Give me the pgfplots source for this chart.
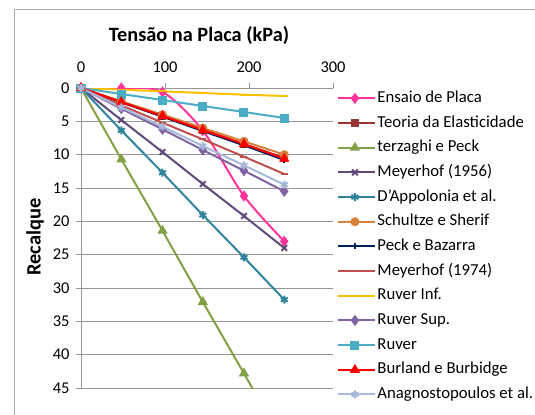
\documentclass[border=0pt]{standalone}
\usepackage{pgfplots}
\pgfplotsset{compat=1.18}
\usepackage{fontspec}
\setmainfont{Carlito}
\definecolor{cEns}{RGB}{255,51,153}
\definecolor{cTeo}{RGB}{150,55,53}
\definecolor{cTer}{RGB}{130,160,70}
\definecolor{cMey}{RGB}{96,74,123}
\definecolor{cDap}{RGB}{49,132,155}
\definecolor{cSch}{RGB}{215,130,60}
\definecolor{cPec}{RGB}{0,32,96}
\definecolor{cM74}{RGB}{192,80,77}
\definecolor{cRI}{RGB}{255,192,0}
\definecolor{cRS}{RGB}{128,100,162}
\definecolor{cRu}{RGB}{75,172,198}
\definecolor{cBur}{RGB}{255,0,0}
\definecolor{cAna}{RGB}{166,185,218}
\definecolor{cGrid}{RGB}{150,150,150}
\begin{document}
\begin{tikzpicture}
\useasboundingbox (0,0) rectangle (535bp,415bp);
\draw[cGrid!80, line width=1bp] (14bp,0bp) -- (14bp,405bp) -- (535bp,405bp);
\node[font=\fontsize{20.4}{24}\selectfont\bfseries] at (199bp,379bp) {Tensão na Placa (kPa)};
\node[font=\fontsize{20.5}{24}\selectfont\bfseries, rotate=90] at (35bp,178bp) {Recalque};
\begin{axis}[
  at={(81bp,27bp)}, anchor=south west,
  scale only axis, width=252bp, height=300bp,
  xmin=0, xmax=300, ymin=0, ymax=45,
  y dir=reverse,
  axis x line*=top, axis y line*=left,
  axis line style={cGrid, line width=0.8bp, -},
  xtick={0,100,200,300}, ytick={0,5,...,45},
  tick align=outside, major tick length=5bp,
  tick style={cGrid, line width=0.8bp},
  ymajorgrids, grid style={cGrid, line width=0.8bp},
  /pgf/number format/assume math mode=true,
  ticklabel style={font=\fontsize{16.5}{19}\selectfont},
  xticklabel style={yshift=7bp},
  yticklabel style={xshift=-3bp},
  clip=true,
  every axis plot/.append style={line width=2bp, mark size=3.3bp},
  legend cell align=left,
  legend style={at={(1.005,0.472)}, anchor=west, draw=none, fill=none,
    font=\fontsize{16.8}{19}\selectfont, row sep=5.67bp,
    nodes={inner sep=1bp, text height=12.5bp, text depth=4.5bp}},
  legend image code/.code={\path (0bp,0bp) -- (37bp,0bp);\draw[#1, mark repeat=2, mark phase=2] plot coordinates {(0bp,0bp)(16.5bp,0bp)(33bp,0bp)};},
]
\addplot[cEns, smooth, tension=0.5, mark=diamond*, mark size=4bp, mark options={solid}] coordinates {(0,0)(48,0)(97,0.6)(145,6.4)(194,16.2)(242,23.0)};
\addlegendentry{Ensaio de Placa}
\addplot[cTeo, mark=square*, mark size=3bp] coordinates {(0,0)(48,2.1)(97,4.2)(145,6.3)(194,8.4)(242,10.5)};
\addlegendentry{Teoria da Elasticidade}
\addplot[cTer, mark=triangle*, mark size=4bp] coordinates {(0,0)(48,10.7)(97,21.4)(145,32.1)(194,42.8)(242,53.5)};
\addlegendentry{terzaghi e Peck}
\addplot[cMey, mark=x, mark size=4bp] coordinates {(0,0)(48,4.8)(97,9.6)(145,14.4)(194,19.2)(242,24.0)};
\addlegendentry{Meyerhof (1956)}
\addplot[cDap, mark=asterisk, mark size=4bp] coordinates {(0,0)(48,6.35)(97,12.7)(145,19.05)(194,25.4)(242,31.75)};
\addlegendentry{D'Appolonia et al.}
\addplot[cSch, mark=*, mark size=3.5bp] coordinates {(0,0)(48,2.0)(97,4.0)(145,6.0)(194,8.0)(242,10.0)};
\addlegendentry{Schultze e Sherif}
\addplot[cPec, mark=+, mark size=3bp] coordinates {(0,0)(48,2.15)(97,4.3)(145,6.45)(194,8.6)(242,10.8)};
\addlegendentry{Peck e Bazarra}
\addplot[cM74, mark=-, mark size=3.5bp] coordinates {(0,0)(48,2.6)(97,5.2)(145,7.7)(194,10.3)(242,12.9)};
\addlegendentry{Meyerhof (1974)}
\addplot[cRI, mark=-, mark size=3.5bp] coordinates {(0,0)(48,0.25)(97,0.5)(145,0.75)(194,1.0)(242,1.2)};
\addlegendentry{Ruver Inf.}
\addplot[cRS, mark=diamond*, mark size=4bp] coordinates {(0,0)(48,3.1)(97,6.2)(145,9.3)(194,12.4)(242,15.5)};
\addlegendentry{Ruver Sup.}
\addplot[cRu, mark=square*, mark size=3.5bp] coordinates {(0,0)(48,0.9)(97,1.8)(145,2.7)(194,3.6)(242,4.5)};
\addlegendentry{Ruver}
\addplot[cBur, mark=triangle*, mark size=4bp] coordinates {(0,0)(48,2.1)(97,4.2)(145,6.3)(194,8.4)(242,10.6)};
\addlegendentry{Burland e Burbidge}
\addplot[cAna, mark=asterisk, mark size=4bp] coordinates {(0,0)(48,2.9)(97,5.8)(145,8.7)(194,11.6)(242,14.5)};
\addlegendentry{Anagnostopoulos et al.}
\end{axis}
\end{tikzpicture}
\end{document}
